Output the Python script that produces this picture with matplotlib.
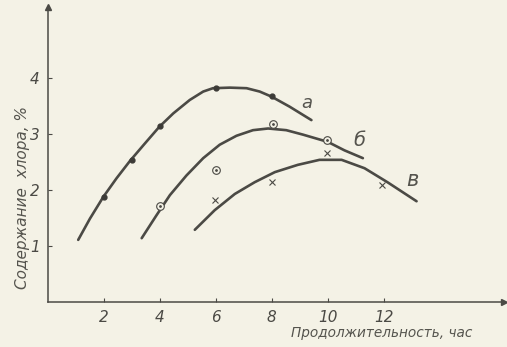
import numpy as np
import matplotlib
matplotlib.use("Agg")
import matplotlib.pyplot as plt

# curve traces (hours, % chlorine)
a_x = [1.08, 1.5, 1.98, 2.45, 2.93, 3.46, 3.98, 4.48, 5.07, 5.55, 5.9, 6.5,
       7.1, 7.57, 7.99, 8.64, 9.42]
a_y = [1.11, 1.49, 1.88, 2.21, 2.52, 2.83, 3.13, 3.37, 3.61, 3.76, 3.82, 3.83,
       3.82, 3.76, 3.67, 3.49, 3.25]
b_x = [3.35, 3.88, 4.36, 4.95, 5.55, 6.14, 6.74, 7.33, 7.87, 8.52, 9.12, 10.01,
       10.6, 11.26]
b_y = [1.14, 1.55, 1.91, 2.26, 2.57, 2.81, 2.97, 3.07, 3.10, 3.07, 2.99, 2.86,
       2.71, 2.57]
c_x = [5.25, 5.96, 6.68, 7.39, 8.11, 8.93, 9.71, 10.5, 11.32, 12.14, 13.18]
c_y = [1.29, 1.64, 1.93, 2.14, 2.32, 2.45, 2.54, 2.54, 2.39, 2.14, 1.80]

# measured points
a_px = [2, 3, 4, 6, 8]
a_py = [1.88, 2.54, 3.14, 3.82, 3.68]
b_px = [4, 6, 8.04, 9.96]
b_py = [1.71, 2.36, 3.18, 2.89]
c_px = [5.96, 8.0, 9.96, 11.96]
c_py = [1.82, 2.14, 2.66, 2.09]

xticks = [2, 4, 6, 8, 10, 12]
yticks = [1, 2, 3, 4]

paper = "#f4f2e6"
ink = "#4b4a45"

fig = plt.figure(figsize=(5.07, 3.47), dpi=100, facecolor=paper)
ax = fig.add_axes([0.0947, 0.1297, 0.899, 0.850])
ax.set_facecolor(paper)
ax.set_xlim(0, 16.3)
ax.set_ylim(0, 5.27)

for xs, ys in [(a_x, a_y), (b_x, b_y), (c_x, c_y)]:
    ax.plot(xs, ys, color=ink, lw=1.9, solid_capstyle="round", solid_joinstyle="round")

ax.plot(a_px, a_py, "o", ms=3.5, color="#3c3b37")
ax.plot(b_px, b_py, "o", ms=5.5, mfc=paper, mec=ink, mew=0.8)
ax.plot(b_px, b_py, ".", ms=2, color=ink)
ax.plot(c_px, c_py, "x", ms=4, color=ink, mew=0.8)

hand = dict(color="#55544e", fontstyle="italic", family="DejaVu Sans")
ax.text(9.25, 3.55, "а", fontsize=13, ha="center", va="center", **hand)
ax.text(11.14, 2.89, "б", fontsize=14, ha="center", va="center", **hand)
ax.text(13.04, 2.18, "в", fontsize=15, ha="center", va="center", **hand)

for s in ["top", "right"]:
    ax.spines[s].set_visible(False)
for s in ["left", "bottom"]:
    ax.spines[s].set_color(ink)
    ax.spines[s].set_linewidth(1.1)
ax.plot(1, 0, ">", transform=ax.transAxes, clip_on=False, color=ink, ms=4)
ax.plot(0, 1, "^", transform=ax.transAxes, clip_on=False, color=ink, ms=5)

ax.set_xticks(xticks)
ax.set_yticks(yticks)
ax.set_xticklabels([str(v) for v in xticks], **hand)
ax.set_yticklabels([str(v) for v in yticks], **hand)
ax.tick_params(direction="in", length=3, width=0.8, colors=ink, labelsize=11, pad=6)

fig.text(0.045, 0.43, "Содержание  хлора, %", rotation=90, fontsize=11,
         ha="center", va="center", **hand)
fig.text(0.753, 0.04, "Продолжительность, час", fontsize=9.8,
         ha="center", va="center", **hand)

fig.savefig("out.png", dpi=100, facecolor=paper)
